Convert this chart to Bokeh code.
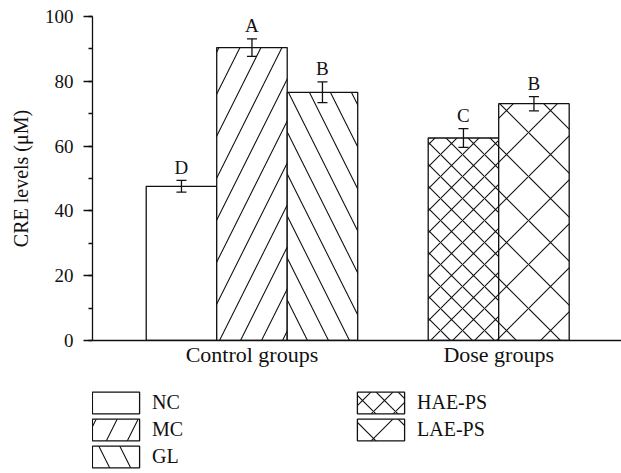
from bokeh.plotting import figure
from bokeh.layouts import column
from bokeh.models import (ColumnDataSource, Range1d, Whisker, TeeHead, Legend, LegendItem,
                          SingleIntervalTicker, FixedTicker)
from bokeh.core.properties import value
from bokeh.embed import file_html
from bokeh.resources import INLINE

# ---- data ----
groups = ["Control groups", "Dose groups"]
members = [["NC", "MC", "GL"], ["HAE-PS", "LAE-PS"]]
values = [47.6, 90.4, 76.6, 62.5, 73.1]
errors = [1.8, 2.7, 3.2, 2.9, 2.2]
letters = ["D", "A", "B", "C", "B"]
y_ticks_interval = 20

# ---- styles ----
FONT = "Liberation Serif"
INK = "#111111"
hatches = [" ", "/", "\\", "x", "x"]
hatch_scales = [12, 42, 42, 22, 44]

# ---- category positions on a numeric axis ----
xs, names, group_centers = [], [], []
pos = 1
for g, mem in zip(groups, members):
    start = pos
    for m in mem:
        xs.append(pos)
        names.append(m)
        pos += 1
    group_centers.append((start + pos - 1) / 2)
    pos += 1

upper = [v + e for v, e in zip(values, errors)]
lower = [v - e for v, e in zip(values, errors)]

p = figure(width=621, height=370, output_backend="svg", toolbar_location=None,
           x_range=Range1d(-0.262, 7.242), y_range=Range1d(0, 100),
           min_border_left=92, min_border_right=0, min_border_top=16, min_border_bottom=30)
p.outline_line_color = None
p.xgrid.visible = False
p.ygrid.visible = False

def bar_style(i):
    return dict(fill_color="white", line_color=INK, line_width=1.3,
                hatch_pattern=hatches[i], hatch_scale=hatch_scales[i],
                hatch_color=INK, hatch_weight=1.1)

for i in range(len(xs)):
    src = ColumnDataSource(dict(x=[xs[i]], top=[values[i]]))
    p.vbar(x="x", top="top", width=1.0, bottom=0, source=src, **bar_style(i))

err_src = ColumnDataSource(dict(x=xs, upper=upper, lower=lower, letter=letters))
w = Whisker(source=err_src, base="x", upper="upper", lower="lower",
            line_color=INK, line_width=1.3, level="overlay",
            upper_head=TeeHead(size=10, line_color=INK, line_width=1.3),
            lower_head=TeeHead(size=10, line_color=INK, line_width=1.3))
p.add_layout(w)

p.text(x="x", y="upper", text="letter", source=err_src, text_font=value(FONT),
       text_font_size="19px", text_align="center", text_baseline="alphabetic",
       y_offset=-13, text_color=INK)

# y axis
yax = p.yaxis[0]
yax.ticker = SingleIntervalTicker(interval=y_ticks_interval, num_minor_ticks=2)
yax.axis_label = "CRE levels (μM)"
yax.axis_label_text_font = FONT
yax.axis_label_text_font_style = "normal"
yax.axis_label_text_font_size = "20px"
yax.axis_label_text_color = INK
yax.axis_label_standoff = 10
yax.major_label_text_font = FONT
yax.major_label_text_font_size = "19px"
yax.major_label_text_color = INK
yax.major_label_standoff = 10
yax.major_tick_out = 9
yax.major_tick_in = 0
yax.minor_tick_out = 4
yax.minor_tick_in = 0
yax.axis_line_color = INK
yax.major_tick_line_color = INK
yax.minor_tick_line_color = INK
yax.axis_line_width = 1.3
yax.major_tick_line_width = 1.3
yax.minor_tick_line_width = 1.3

# x axis
xax = p.xaxis[0]
xax.ticker = FixedTicker(ticks=group_centers)
xax.major_label_overrides = {c: g for c, g in zip(group_centers, groups)}
xax.major_label_text_font = FONT
xax.major_label_text_font_size = "22px"
xax.major_label_text_color = INK
xax.major_label_standoff = 1
xax.major_tick_out = 0
xax.major_tick_in = 0
xax.minor_tick_out = 0
xax.minor_tick_in = 0
xax.axis_line_color = INK
xax.axis_line_width = 1.3

# legend panel (separate figure below the chart; its renderers are hidden,
# only their legend swatches are shown)
pl = figure(width=621, height=103, output_backend="svg", toolbar_location=None,
            x_range=Range1d(0, 7), y_range=Range1d(0, 100),
            x_axis_location=None, y_axis_location=None,
            min_border_left=0, min_border_right=0, min_border_top=0, min_border_bottom=0)
pl.outline_line_color = None
pl.xgrid.visible = False
pl.ygrid.visible = False

leg_renderers = []
for i in range(len(names)):
    src = ColumnDataSource(dict(x=[xs[i]], top=[values[i]]))
    r = pl.vbar(x="x", top="top", width=1.0, bottom=0, source=src, **bar_style(i))
    r.visible = False
    leg_renderers.append(r)

def make_legend(idx, loc):
    return Legend(items=[LegendItem(label=names[i], renderers=[leg_renderers[i]]) for i in idx],
                  location=loc, padding=0, margin=0, border_line_color=None,
                  background_fill_alpha=0, glyph_width=59, glyph_height=27,
                  spacing=0, label_standoff=7, label_text_font=FONT,
                  label_text_font_size="20px", label_text_color=INK,
                  label_height=22, click_policy="none", inactive_fill_alpha=0)

pl.add_layout(make_legend([0, 1, 2], (-6, 3)), "center")
pl.add_layout(make_legend([3, 4], (259, 30)), "center")

open("out.html", "w").write(file_html(column(p, pl, spacing=0), INLINE))
